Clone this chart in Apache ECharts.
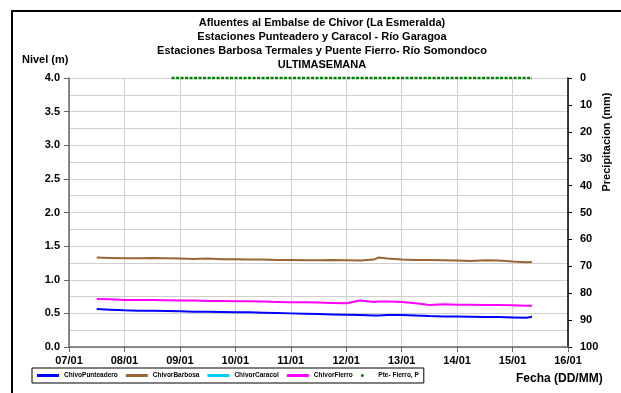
<!DOCTYPE html>
<html><head><meta charset="utf-8">
<script src="https://cdn.jsdelivr.net/npm/echarts@6/dist/echarts.min.js"></script>
<style>html,body{margin:0;padding:0;background:#fff}#c{width:621px;height:393px}</style>
</head><body><div id="c"></div>
<script>
// Day offsets from 07/01 00:00
var xLabels = ['07/01','08/01','09/01','10/01','11/01','12/01','13/01','14/01','15/01','16/01'];
var tLevel = [0.50,0.75,1.00,1.25,1.50,1.75,2.00,2.25,2.50,2.75,3.00,3.25,3.50,3.75,4.00,4.25,4.50,4.75,5.00,5.25,5.50,5.58,5.75,6.00,6.25,6.50,6.75,7.00,7.25,7.50,7.75,8.00,8.25,8.35];
var punteadero = [0.565,0.555,0.545,0.54,0.54,0.535,0.53,0.525,0.525,0.52,0.515,0.515,0.51,0.505,0.50,0.495,0.49,0.485,0.48,0.475,0.47,0.47,0.475,0.475,0.47,0.46,0.455,0.455,0.45,0.445,0.445,0.44,0.435,0.45];
var barbosa = [1.33,1.325,1.32,1.32,1.325,1.32,1.315,1.31,1.315,1.305,1.305,1.30,1.30,1.295,1.295,1.29,1.29,1.295,1.29,1.285,1.30,1.33,1.315,1.30,1.295,1.295,1.29,1.285,1.28,1.29,1.285,1.27,1.26,1.265];
var caracol = [];
var fierro = [0.715,0.71,0.70,0.70,0.70,0.695,0.69,0.69,0.685,0.685,0.68,0.68,0.675,0.67,0.665,0.665,0.66,0.655,0.65,0.69,0.67,0.675,0.675,0.67,0.65,0.625,0.635,0.63,0.63,0.625,0.625,0.62,0.615,0.615];
var tPrecip = [1.85,2.0,2.5,3.0,3.5,4.0,4.5,5.0,5.5,6.0,6.5,7.0,7.5,8.0,8.35];
var precip = [0,0,0,0,0,0,0,0,0,0,0,0,0,0,0];
var titleLines = ['Afluentes al Embalse de Chivor (La Esmeralda)','Estaciones Punteadero y Caracol - Río Garagoa','Estaciones Barbosa Termales y Puente Fierro- Río Somondoco','ULTIMASEMANA'];

function pairs(t, v){ return v.map(function(y,i){ return [t[i], y]; }); }
var FF = '"Liberation Sans", Arial, sans-serif';
var chart = echarts.init(document.getElementById('c'), null, {renderer:'canvas'});
var gfx = [
  {type:'rect', shape:{x:12,y:11,width:700,height:500}, style:{fill:'none', stroke:'#000', lineWidth:2}, silent:true},
  {type:'text', left:22, top:54, style:{text:'Nivel (m)', font:'bold 11px '+FF, fill:'#000'}},
  {type:'text', left:516, top:373, style:{text:'Fecha (DD/MM)', font:'bold 12px '+FF, fill:'#000'}},
  {type:'text', x:607, y:142, rotation:Math.PI/2, style:{text:'Precipitacion (mm)', font:'bold 11px '+FF, fill:'#000', align:'center', verticalAlign:'middle'}}
];
titleLines.forEach(function(s,i){
  gfx.push({type:'text', x:322, y:23+i*14, style:{text:s, font:'bold 11px '+FF, fill:'#000', align:'center', verticalAlign:'middle'}});
});
chart.setOption({
  animation:false,
  textStyle:{fontFamily:FF},
  grid:{left:69, right:53, top:78, bottom:46},
  graphic: gfx,
  legend:{
    left:32, top:368, orient:'horizontal',
    padding:[4,5,4,5], itemGap:8, itemWidth:22, itemHeight:3,
    borderColor:'#000', borderWidth:1,
    textStyle:{fontSize:6.5, fontWeight:'bold', color:'#000'},
    data:[
      {name:'ChivoPunteadero', icon:'rect'},
      {name:'ChivorBarbosa', icon:'rect'},
      {name:'ChivorCaracol', icon:'rect'},
      {name:'ChivorFierro', icon:'rect'},
      {name:'Pte- Fierro, P', icon:'circle', itemStyle:{color:'#008000'}}
    ]
  },
  xAxis:{
    type:'value', min:0, max:9, interval:1,
    axisLine:{lineStyle:{color:'#666', width:1.5}},
    axisTick:{show:true, length:5, lineStyle:{color:'#666'}},
    axisLabel:{formatter:function(v){return xLabels[Math.round(v)];}, fontWeight:'bold', fontSize:11, color:'#000', margin:8},
    splitLine:{show:true, lineStyle:{color:'#d0d0d0', width:1}}
  },
  yAxis:[
    {type:'value', min:0, max:4, interval:0.5, position:'left',
     axisLine:{show:true, lineStyle:{color:'#666', width:1.5}},
     axisTick:{show:true, length:5, lineStyle:{color:'#666'}},
     minorTick:{show:false, splitNumber:2},
     minorSplitLine:{show:true, lineStyle:{color:'#d0d0d0', width:1}},
     axisLabel:{formatter:function(v){return v.toFixed(1);}, fontWeight:'bold', fontSize:11, color:'#000', margin:9},
     splitLine:{show:true, lineStyle:{color:'#d0d0d0', width:1}}},
    {type:'value', min:0, max:100, interval:10, inverse:true, position:'right',
     axisLine:{show:true, lineStyle:{color:'#000', width:1.5}},
     axisTick:{show:true, length:4, lineStyle:{color:'#000'}},
     axisLabel:{fontWeight:'bold', fontSize:11, color:'#000', margin:12},
     splitLine:{show:false}}
  ],
  series:[
    {name:'ChivoPunteadero', type:'line', yAxisIndex:0, data:pairs(tLevel,punteadero), showSymbol:false, color:'#0000ff', lineStyle:{width:2}},
    {name:'ChivorBarbosa', type:'line', yAxisIndex:0, data:pairs(tLevel,barbosa), showSymbol:false, color:'#996633', lineStyle:{width:2}},
    {name:'ChivorCaracol', type:'line', yAxisIndex:0, data:caracol, showSymbol:false, color:'#00ccff', lineStyle:{width:2}},
    {name:'ChivorFierro', type:'line', yAxisIndex:0, data:pairs(tLevel,fierro), showSymbol:false, color:'#ff00ff', lineStyle:{width:2}},
    {name:'Pte- Fierro, P', type:'line', yAxisIndex:1, data:pairs(tPrecip,precip), showSymbol:false, clip:false, color:'#008000', lineStyle:{width:2.5, type:[3,1.5]}}
  ]
});
</script></body></html>
